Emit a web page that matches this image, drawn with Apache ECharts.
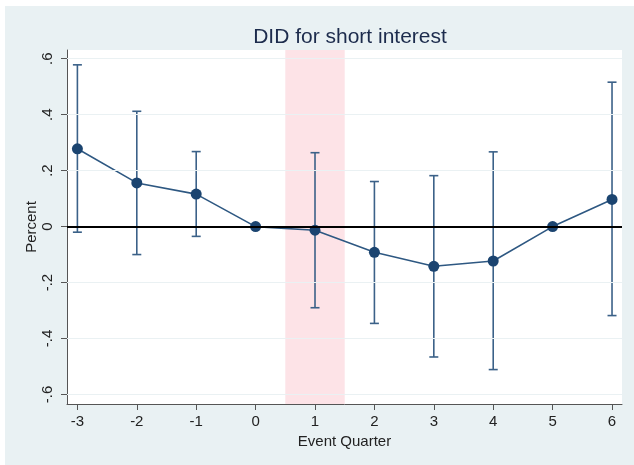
<!DOCTYPE html>
<html>
<head>
<meta charset="utf-8">
<script src="https://cdn.jsdelivr.net/npm/echarts@6/dist/echarts.min.js"></script>
<style>
html,body{margin:0;padding:0;background:#fff;}
#bg{position:absolute;left:5px;top:6px;width:629px;height:459px;background:#e9f1f3;}
#c{position:absolute;left:0;top:0;width:634px;height:465px;}
</style>
</head>
<body>
<div id="bg"></div>
<div id="c"></div>
<script>
const quarters = [-3, -2, -1, 0, 1, 2, 3, 4, 5, 6];
const estimates = [0.278, 0.156, 0.116, 0, -0.013, -0.092, -0.142, -0.123, 0, 0.097];
const ciLower = [-0.02, -0.10, -0.035, 0, -0.290, -0.346, -0.466, -0.511, 0, -0.318];
const ciUpper = [0.578, 0.412, 0.268, 0, 0.264, 0.161, 0.182, 0.267, 0, 0.516];
const yTicks = [-0.6, -0.4, -0.2, 0, 0.2, 0.4, 0.6];
const yTickLabels = ['-.6', '-.4', '-.2', '0', '.2', '.4', '.6'];
const treatBand = [0.5, 1.5];

const font = 'Liberation Sans, Arial, Helvetica, sans-serif';
const navy = '#1b4470';
const barColor = '#3b6188';

const chart = echarts.init(document.getElementById('c'), null, {renderer: 'canvas'});

const ciData = quarters.map((q, i) => [q, ciLower[i], ciUpper[i]]).filter(d => d[1] !== d[2]);

chart.setOption({
  animation: false,
  backgroundColor: 'transparent',
  title: {
    text: 'DID for short interest',
    left: 345,
    top: 22,
    textAlign: 'center',
    textStyle: {fontFamily: font, fontSize: 21, fontWeight: 'normal', color: '#1c2b4c'}
  },
  grid: {
    left: 67, right: 12, top: 50, bottom: 61,
    show: true, backgroundColor: '#ffffff', borderWidth: 0
  },
  xAxis: {
    type: 'value',
    min: -3.175, max: 6.168,
    name: 'Event Quarter',
    nameLocation: 'middle',
    nameGap: 28,
    nameTextStyle: {fontFamily: font, fontSize: 15, color: '#222'},
    axisLine: {show: true, onZero: false, lineStyle: {color: '#555', width: 1}},
    axisTick: {show: true, customValues: quarters, length: 6, lineStyle: {color: '#555'}},
    axisLabel: {customValues: quarters, fontFamily: font, fontSize: 15, color: '#222', margin: 10,
      formatter: v => String(v)},
    splitLine: {show: false}
  },
  yAxis: {
    type: 'value',
    min: -0.634, max: 0.631,
    name: 'Percent',
    nameLocation: 'middle',
    nameGap: 28,
    nameMoveOverlap: false,
    nameTextStyle: {fontFamily: font, fontSize: 15, color: '#222'},
    axisLine: {show: true, onZero: false, lineStyle: {color: '#555', width: 1}},
    axisTick: {show: true, customValues: yTicks, length: 6, lineStyle: {color: '#555'}},
    axisLabel: {customValues: yTicks, rotate: 90, fontFamily: font, fontSize: 15, color: '#222', margin: 12,
      formatter: v => yTickLabels[yTicks.findIndex(t => Math.abs(t - v) < 1e-9)]},
    splitLine: {show: false}
  },
  series: [
    {
      type: 'line',
      data: [],
      silent: true,
      markArea: {
        silent: true,
        itemStyle: {color: '#fde3e7'},
        data: [[{xAxis: treatBand[0]}, {xAxis: treatBand[1]}]]
      },
      markLine: {
        silent: true,
        symbol: 'none',
        label: {show: false},
        lineStyle: {color: '#eaf1f3', width: 1.2, type: 'solid'},
        data: yTicks.filter(t => t !== 0).map(t => ({yAxis: t}))
      },
      z: 1
    },
    {
      type: 'line',
      data: [],
      silent: true,
      markLine: {
        silent: true,
        symbol: 'none',
        label: {show: false},
        lineStyle: {color: '#000', width: 2, type: 'solid'},
        data: [{yAxis: 0}]
      },
      z: 2
    },
    {
      type: 'custom',
      z: 3,
      data: ciData,
      renderItem: function (params, api) {
        const x = api.value(0);
        const lo = api.coord([x, api.value(1)]);
        const hi = api.coord([x, api.value(2)]);
        const w = 4.5;
        const style = {stroke: barColor, lineWidth: 1.6, fill: null};
        return {
          type: 'group',
          children: [
            {type: 'line', shape: {x1: lo[0], y1: lo[1], x2: hi[0], y2: hi[1]}, style},
            {type: 'line', shape: {x1: lo[0] - w, y1: lo[1], x2: lo[0] + w, y2: lo[1]}, style},
            {type: 'line', shape: {x1: hi[0] - w, y1: hi[1], x2: hi[0] + w, y2: hi[1]}, style}
          ]
        };
      }
    },
    {
      type: 'line',
      z: 4,
      data: quarters.map((q, i) => [q, estimates[i]]),
      symbol: 'circle',
      symbolSize: 11,
      lineStyle: {color: '#2e5882', width: 1.6},
      itemStyle: {color: navy, borderWidth: 0}
    }
  ]
});
</script>
</body>
</html>
